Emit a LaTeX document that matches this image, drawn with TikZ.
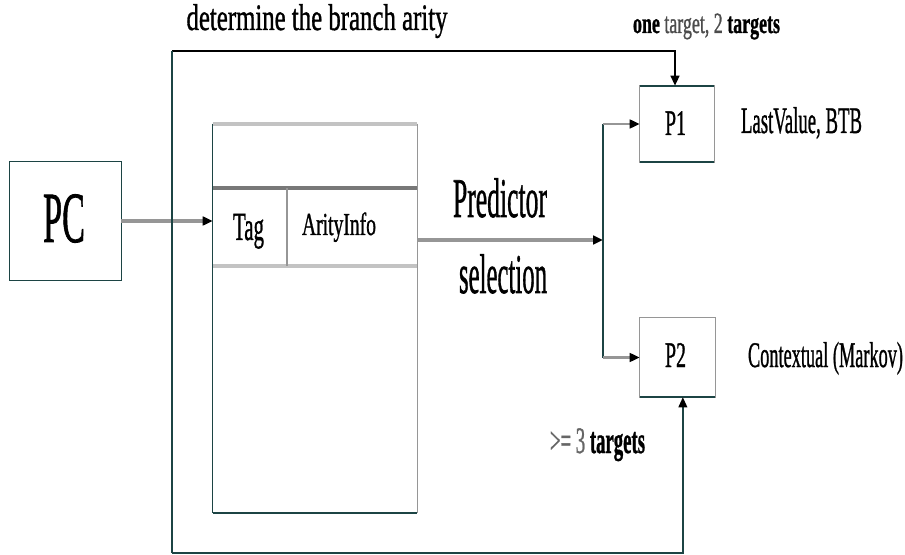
\documentclass[tikz,border=0pt]{standalone}
\usepackage{fontspec}
\setmainfont[FakeBold=1.2]{Liberation Serif}
\usepackage{graphicx}
\usetikzlibrary{arrows.meta}
\definecolor{tealline}{RGB}{28,68,68}
\definecolor{grayline}{RGB}{150,150,150}
\definecolor{lightline}{RGB}{195,195,195}
\newcommand\fitw[3]{\resizebox{\dimexpr #1pt*3/4\relax}{\height}{\fontsize{#2}{#2}\selectfont #3}}
\begin{document}
\begin{tikzpicture}[x=0.75pt,y=-0.75pt,
  txt/.style={inner sep=0pt,anchor=base},
  boxnode/.style={inner sep=0pt,draw=none},
  tip/.style={-{Triangle[length=7.5pt,width=6.5pt,color=black,fill=black]}},
  loopline/.style={draw=tealline,line width=1.2pt},
  topline/.style={draw=black,line width=1.6pt},
  feed/.style={draw=grayline,line width=2.8pt},
  stub/.style={draw=grayline,line width=1.8pt},
  thinbox/.style={draw=grayline,line width=0.9pt},
  darkedge/.style={draw=tealline,line width=1.4pt}]
\useasboundingbox (0,0) rectangle (905,555);
\fill[white] (0,0) rectangle (905,555);

% boxes (named nodes)
\node[boxnode,minimum width=83.25pt,minimum height=88.5pt] (PC) at (65.5,221) {};
\node[boxnode,minimum width=153pt,minimum height=291.75pt] (table) at (315,318.5) {};
\node[boxnode,minimum width=55.5pt,minimum height=57pt] (P1) at (677,124) {};
\node[boxnode,minimum width=56.25pt,minimum height=59.25pt] (P2) at (677.5,357.5) {};

% PC box
\draw[darkedge,line width=1.1pt] (PC.north west) rectangle (PC.south east);

% table
\draw[darkedge,line width=1.1pt] (table.north west) -- (table.south west);
\draw[darkedge,line width=1.8pt] (table.south west) -- (table.south east);
\draw[thinbox] (table.north east) -- (table.south east);
\draw[draw=lightline,line width=3pt] (table.north west) -- (table.north east);
\coordinate (r1) at (213,188);
\coordinate (r2) at (213,266);
\coordinate (d1) at (287,188);
\coordinate (d2) at (287,266);
\draw[draw=grayline!80!black,line width=3pt] (r1) -- (r1 -| table.east);
\draw[draw=lightline,line width=3.5pt] (r2) -- (r2 -| table.east);
\draw[thinbox] (d1) -- (d2);

% P1, P2 boxes
\draw[thinbox] (P1.north west) rectangle (P1.south east);
\draw[darkedge] (P1.north west) -- (P1.north east);
\draw[darkedge] (P1.south west) -- (P1.south east);
\draw[thinbox] (P2.north west) rectangle (P2.south east);
\draw[darkedge] (P2.south west) -- (P2.south east);

% PC -> table
\draw[feed,tip] (PC.east) -- (PC.east -| table.west);

% predictor selection
\coordinate (split) at (603,240);
\draw[feed,tip] (split -| table.east) -- (split);
\draw[draw=tealline,line width=1pt] (split |- P1.west) -- (split |- P2.west);
\draw[stub,tip] (split |- P1.west) -- (P1.west);
\draw[stub,tip] (split |- P2.west) -- (P2.west);

% outer loop
\coordinate (tl) at (172,51);
\coordinate (bl) at (172,553);
\draw[topline,tip] (tl) -| ([xshift=-1.5pt]P1.north);
\draw[loopline] (tl) -- (bl);
\draw[loopline,tip] (bl) -| ([xshift=4pt]P2.south);

% texts
\node[txt] (tdet) at (317,30) {\fitw{261}{28}{determine the branch arity}};
\node[txt] (tone) at (706.5,33) {\fitw{147}{22}{\textbf{one} \textcolor{black!70}{target, 2} \textbf{targets}}};
\node[txt] (tpc) at (64,242) {\fitw{42}{54}{PC}};
\node[txt] (ttag) at (248.5,240) {\fitw{31}{30}{Tag}};
\node[txt] (tar) at (339,235) {\fitw{74}{24}{ArityInfo}};
\node[txt] (tpred) at (500,217) {\fitw{94}{42}{Predictor}};
\node[txt] (tsel) at (503,293) {\fitw{88}{42}{selection}};
\node[txt] (tp1) at (675.5,135) {\fitw{21}{27}{P1}};
\node[txt] (tp2) at (675.5,367) {\fitw{21}{27}{P2}};
\node[txt] (tlv) at (801.5,133) {\fitw{121}{28}{LastValue, BTB}};
\node[txt] (tctx) at (825.5,367) {\fitw{155}{27}{Contextual (Markov)}};
\node[txt] (tthree) at (597.5,453) {\fitw{95}{28}{\textcolor{black!60}{>= 3} \textbf{targets}}};
\end{tikzpicture}
\end{document}
